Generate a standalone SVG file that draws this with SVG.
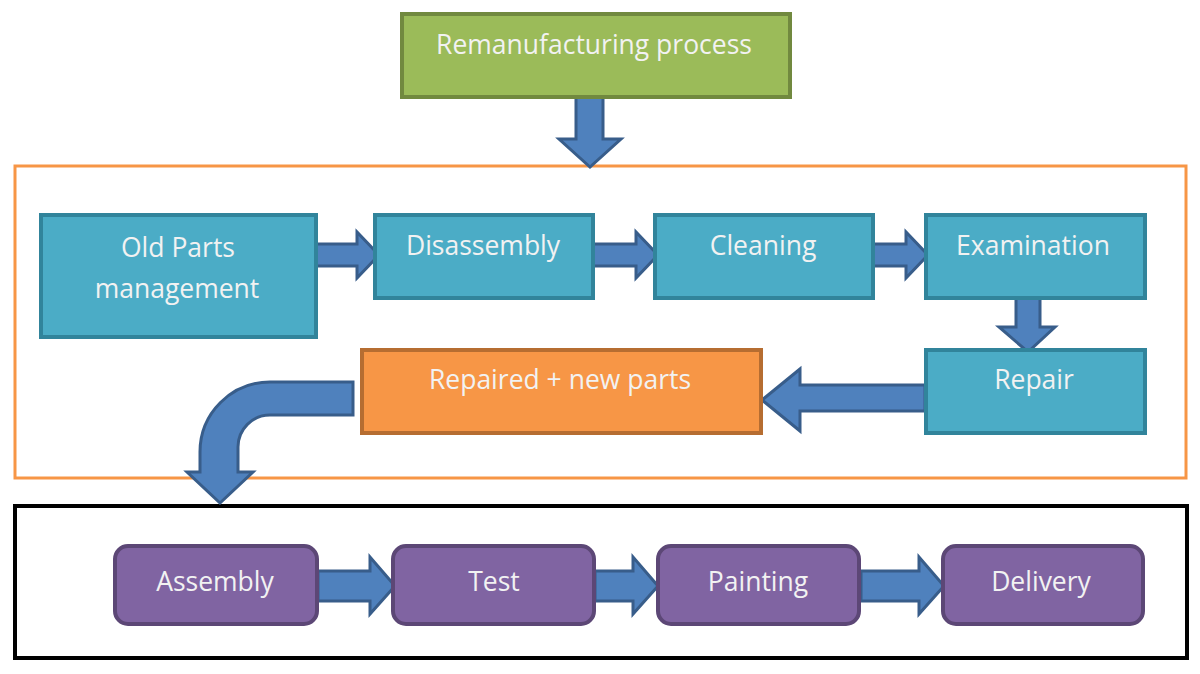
<svg xmlns="http://www.w3.org/2000/svg" width="1200" height="674" viewBox="0 0 1200 674">
<style>
.t{font-family:"Open Sans","Liberation Sans",sans-serif;font-size:26.5px;fill:#f2f2f2;text-anchor:middle}
.teal{fill:#4bacc6;stroke:#31849b;stroke-width:4}
.purple{fill:#8064a2;stroke:#5c4776;stroke-width:4}
.arr{fill:#4f81bd;stroke:#385d8a;stroke-width:3;stroke-linejoin:miter}
</style>
<rect width="1200" height="674" fill="#ffffff"/>
<g id="container-orange"><rect x="15" y="166" width="1171" height="312" fill="none" stroke="#f79646" stroke-width="3"/></g>
<g id="container-black"><rect x="15" y="506" width="1172" height="152" fill="none" stroke="#000000" stroke-width="4"/></g>
<g id="connectors">
<path class="arr" d="M576,96 L603,96 L603,139 L621,139 L590,167 L559,139 L576,139 Z"/>
<path class="arr" d="M316,244 L357,244 L357,232 L379,255 L357,278 L357,266 L316,266 Z"/>
<path class="arr" d="M593,244 L636,244 L636,232 L658,255 L636,278 L636,266 L593,266 Z"/>
<path class="arr" d="M873,244 L906,244 L906,232 L928,255 L906,278 L906,266 L873,266 Z"/>
<path class="arr" d="M1016,298 L1040,298 L1040,327 L1055,327 L1028,352 L999,327 L1016,327 Z"/>
<path class="arr" d="M925,385 L800,385 L800,369 L762,400 L800,431 L800,411 L925,411 Z"/>
<path class="arr" d="M353,382 L270,382 A70,70 0 0 0 200,452 L200,472 L187,472 L220,503 L253,472 L238,472 L238,447 A32,32 0 0 1 270,415 L353,415 Z"/>
<path class="arr" d="M318,571 L370,571 L370,557 L395,586 L370,614 L370,601 L318,601 Z"/>
<path class="arr" d="M595,571 L633,571 L633,557 L658,586 L633,614 L633,601 L595,601 Z"/>
<path class="arr" d="M861,571 L919,571 L919,557 L944,586 L919,614 L919,601 L861,601 Z"/>
</g>
<g id="remanufacturing"><rect x="402" y="14" width="388" height="83" fill="#9bbb59" stroke="#71893f" stroke-width="4"/><text class="t" x="594" y="54">Remanufacturing process</text></g>
<g id="old-parts"><rect class="teal" x="41" y="215" width="275" height="122"/><text class="t" x="178" y="257">Old Parts</text><text class="t" x="177" y="298">management</text></g>
<g id="disassembly"><rect class="teal" x="375" y="215" width="218" height="83"/><text class="t" x="483" y="255">Disassembly</text></g>
<g id="cleaning"><rect class="teal" x="655" y="215" width="218" height="83"/><text class="t" x="763" y="255">Cleaning</text></g>
<g id="examination"><rect class="teal" x="926" y="215" width="219" height="83"/><text class="t" x="1033" y="255">Examination</text></g>
<g id="repair"><rect class="teal" x="926" y="350" width="219" height="83"/><text class="t" x="1034" y="389">Repair</text></g>
<g id="repaired"><rect x="362" y="350" width="399" height="83" fill="#f79646" stroke="#b66d31" stroke-width="4"/><text class="t" x="560" y="389">Repaired + new parts</text></g>
<g id="assembly"><rect class="purple" x="115" y="546" width="202" height="78" rx="13"/><text class="t" x="215" y="591">Assembly</text></g>
<g id="test"><rect class="purple" x="393" y="546" width="201" height="78" rx="13"/><text class="t" x="494" y="591">Test</text></g>
<g id="painting"><rect class="purple" x="658" y="546" width="201" height="78" rx="13"/><text class="t" x="758" y="591">Painting</text></g>
<g id="delivery"><rect class="purple" x="943" y="546" width="200" height="78" rx="13"/><text class="t" x="1041" y="591">Delivery</text></g>
</svg>
